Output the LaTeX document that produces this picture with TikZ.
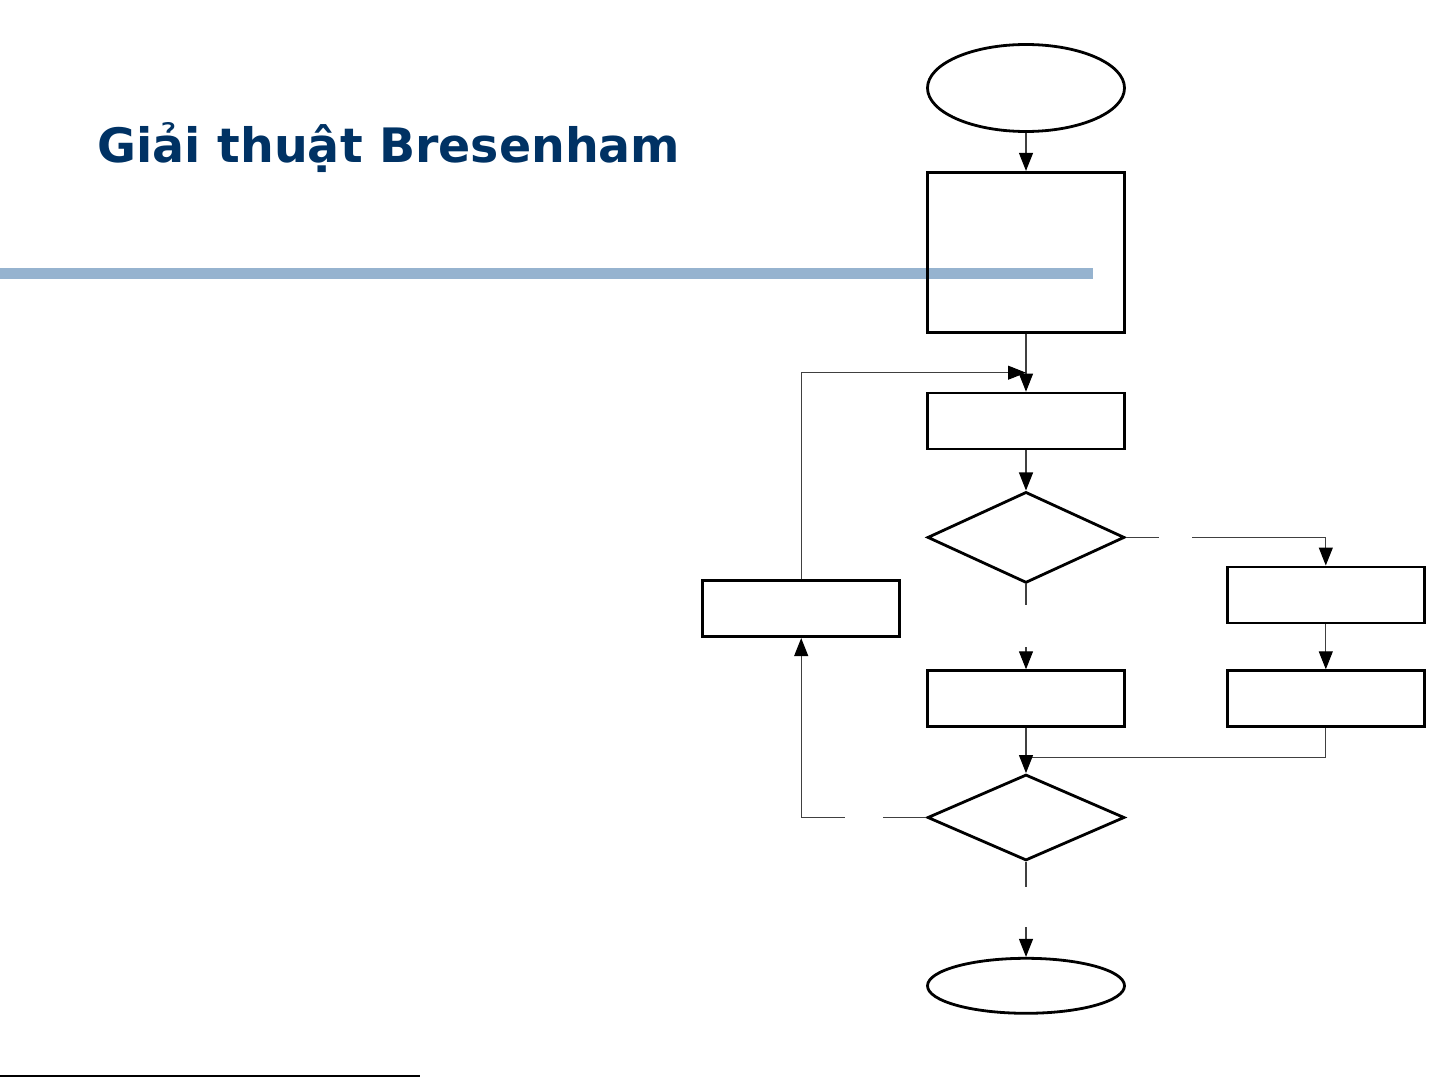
\documentclass[tikz,border=0pt]{standalone}
\usepackage{fontspec}
\newfontfamily\titlefont{DejaVu Sans}
\usetikzlibrary{positioning,shapes.geometric,arrows.meta}
\definecolor{ctitle}{RGB}{0,50,100}
\definecolor{cbar}{RGB}{150,179,207}

\begin{document}
\begin{tikzpicture}[
    terminal/.style={ellipse, draw, line width=0.056cm, minimum width=3.94cm},
    process/.style={rectangle, draw, line width=0.056cm, minimum width=3.94cm, minimum height=1.12cm},
    decision/.style={diamond, draw, line width=0.056cm, minimum width=3.94cm},
    flow/.style={-{Triangle[length=0.36cm,width=0.28cm,black]}, line width=0.6pt, black!75},
    link/.style={line width=0.6pt, black!75},
    hgap/.style={fill=white, inner sep=0, minimum width=#1, minimum height=5pt},
    vgap/.style={fill=white, inner sep=0, minimum height=#1, minimum width=5pt}]
    \useasboundingbox (0,0) rectangle (28.74,-21.54);

    % heading and rule
    \node[anchor=base west, text=ctitle, font=\titlefont\bfseries\fontsize{27}{32}\selectfont] (Title) at (1.83,-3.26) {Giải thuật Bresenham};
    \fill[cbar] (0,-5.36) rectangle (21.86,-5.58);
    \draw[line width=0.6pt] (0,-21.52) -- (8.4,-21.52);

    % flowchart
    \node[terminal, minimum height=1.74cm] (Start) at (20.52,-1.76) {};
    \node[process, minimum height=3.2cm] (Init) [below=0.76cm of Start] {};
    \node[process] (Plot) [below=1.16cm of Init] {};
    \node[decision, minimum height=1.82cm] (Sign) [below=0.8cm of Plot] {};
    \node[process] (Keep) [below=1.7cm of Sign] {};
    \node[process] (Step) [right=2cm of Keep] {};
    \node[process] (Move) [above=0.9cm of Step] {};
    \node[process] (Next) [left=0.5cm of Keep, yshift=1.8cm] {};
    \node[decision, minimum height=1.72cm] (Check) [below=0.9cm of Keep] {};
    \node[terminal, minimum height=1.1cm] (Stop) [below=1.9cm of Check] {};

    \coordinate (Loop) at ([yshift=0.38cm]Plot.north);
    \coordinate (Merge) at ([yshift=-0.58cm]Keep.south);

    \draw[flow] (Start) to (Init);
    \draw[flow] (Init) to (Plot);
    \draw[flow] (Plot) to (Sign);
    \draw[flow] (Sign.east) -| node[hgap=0.66cm, pos=0.123] {} (Move.north);
    \draw[flow] (Sign.south) -- node[vgap=0.84cm, pos=0.49] {} (Keep.north);
    \draw[flow] (Move) to (Step);
    \draw[link] (Step.south) |- (Merge);
    \draw[flow] (Keep) to (Check);
    \draw[flow] (Check.west) -| node[hgap=0.76cm, pos=0.25] {} (Next.south);
    \draw[flow] (Next.north) |- (Loop);
    \draw[flow] (Check.south) -- node[vgap=0.8cm, pos=0.47] {} (Stop.north);
\end{tikzpicture}
\end{document}
